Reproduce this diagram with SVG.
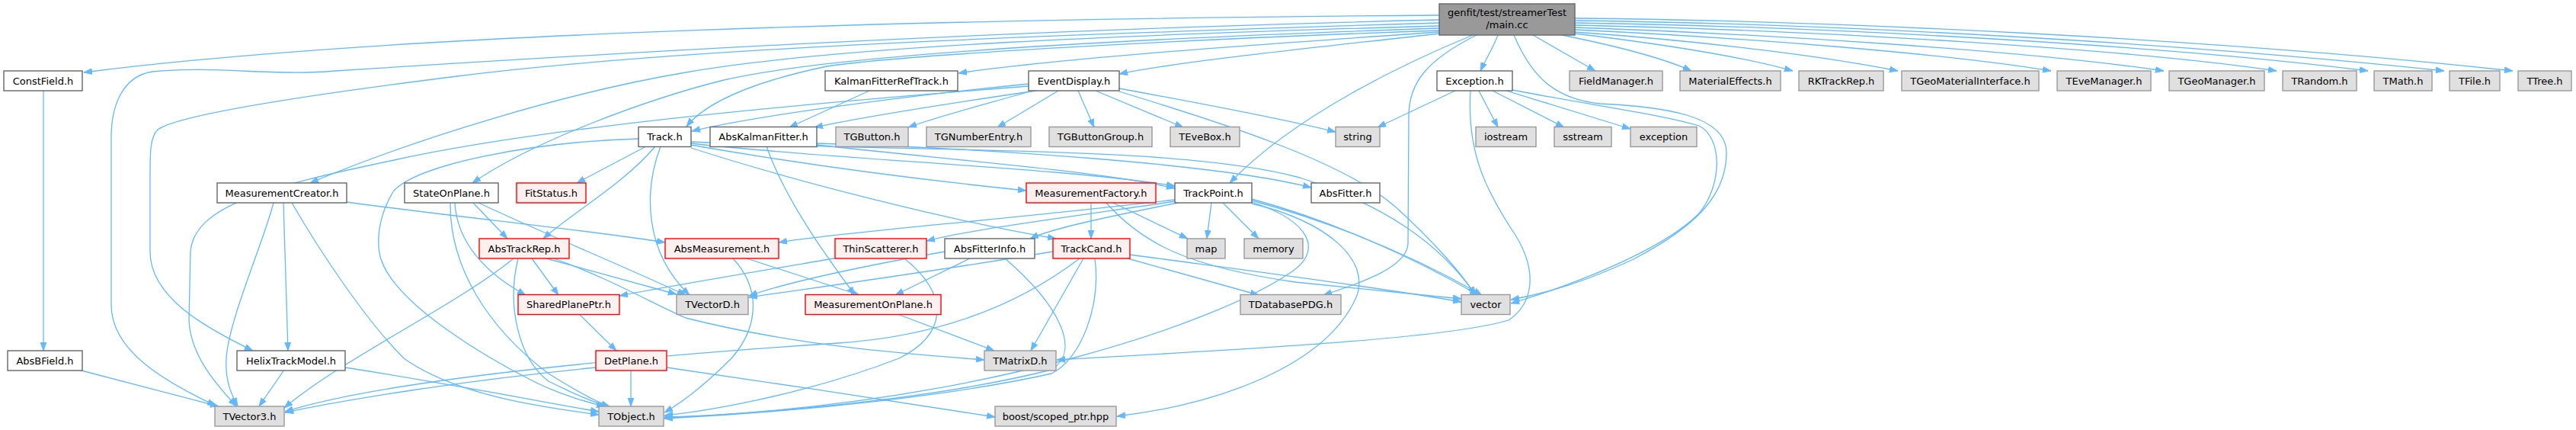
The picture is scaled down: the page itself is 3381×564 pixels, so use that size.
<svg xmlns="http://www.w3.org/2000/svg" width="3381" height="564" viewBox="0 0 3381 564">
<style>
.e{fill:none;stroke:#63b8ff;stroke-width:1.3;marker-end:url(#a)}
.n rect{fill:#ffffff;stroke:#666666;stroke-width:1.4}
.r rect{fill:#fff0f0;stroke:#ff0000;stroke-width:1.4}
.g rect{fill:#e0e0e0;stroke:#999999;stroke-width:1.4}
.m rect{fill:#999999;stroke:#666666;stroke-width:1.4}
text{font-family:"DejaVu Sans","Liberation Sans",sans-serif;font-size:13px;fill:#000000;text-anchor:middle}
</style>
<defs>
<marker id="a" markerUnits="userSpaceOnUse" markerWidth="12" markerHeight="10" refX="11" refY="4.5" orient="auto">
<path d="M0,0.5 L11,4.5 L0,8.5 Z" fill="#63b8ff" stroke="#63b8ff" stroke-width="0.8"/>
</marker>
</defs>
<rect width="3381" height="564" fill="#ffffff"/>
<g id="edges">
<!-- main.cc -->
<path class="e" d="M1889,20 C1200,25 500,45 110,95"/>
<path class="e" d="M1889,26 C1300,40 800,70 440,93 C360,100 280,86 200,94 C160,100 146,140 146,180 L146,400 C146,460 215,500 283,532"/>
<path class="e" d="M1889,30 C1400,45 900,62 600,100 C400,125 235,150 207,170 C197,180 197,200 197,230 L197,330 C197,390 270,430 332,460"/>
<path class="e" d="M1889,34 C1500,45 1100,60 900,95 C750,120 550,180 407,240"/>
<path class="e" d="M1889,37 C1500,50 1100,70 950,105 C850,130 700,185 620,240"/>
<path class="e" d="M1889,40 C1600,50 1200,70 1085,87 C1000,105 930,130 901,166"/>
<path class="e" d="M1889,42 C1700,55 1400,75 1258,96"/>
<path class="e" d="M1889,44 C1750,60 1550,80 1469,97"/>
<path class="e" d="M1966,46 C1960,62 1950,78 1943,93"/>
<path class="e" d="M1933,46 C1850,80 1700,150 1614,240"/>
<path class="e" d="M1938,46 C1870,80 1850,110 1849,150 L1848,320 C1846,350 1790,370 1737,387"/>
<path class="e" d="M2012,46 L2094,93"/>
<path class="e" d="M1987,46 C2010,100 2040,130 2100,136 C2180,140 2266,150 2266,200 C2266,260 2220,300 2144,340 C2080,370 2030,385 1983,393"/>
<path class="e" d="M2050,46 C2120,60 2180,75 2220,93"/>
<path class="e" d="M2067,44 C2200,60 2300,78 2353,93"/>
<path class="e" d="M2067,42 C2250,55 2400,75 2491,93"/>
<path class="e" d="M2067,39 C2300,50 2550,70 2692,93"/>
<path class="e" d="M2067,36 C2300,44 2650,65 2840,93"/>
<path class="e" d="M2067,33 C2400,40 2800,65 2988,93"/>
<path class="e" d="M2067,30 C2400,35 2850,60 3108,93"/>
<path class="e" d="M2067,27 C2400,31 2850,55 3208,93"/>
<path class="e" d="M2067,24 C2400,27 2900,50 3298,93"/>
<!-- ConstField / AbsBField / Helix -->
<path class="e" d="M57,119 L57,460"/>
<path class="e" d="M103,485 L287,533"/>
<path class="e" d="M373,485 L340,533"/>
<path class="e" d="M453,482 C600,505 700,525 786,540"/>
<!-- MeasurementCreator -->
<path class="e" d="M455,265 C600,285 760,300 873,318"/>
<path class="e" d="M359,266 C345,320 300,420 297,470 C295,500 305,520 312,533"/>
<path class="e" d="M372,266 L378,460"/>
<path class="e" d="M383,266 C420,330 480,420 530,470 C600,520 720,535 786,544"/>
<!-- StateOnPlane -->
<path class="e" d="M621,266 L666,313"/>
<path class="e" d="M597,266 C600,320 640,360 690,387"/>
<path class="e" d="M591,266 C590,350 640,430 720,490 C760,515 785,528 800,533"/>
<path class="e" d="M628,266 C700,300 820,350 900,387"/>
<!-- Track -->
<path class="e" d="M838,182 C700,186 550,215 517,250 C495,285 494,320 500,340 C520,400 640,470 700,500 C740,520 780,530 794,533"/>
<path class="e" d="M848,192 L757,240"/>
<path class="e" d="M860,192 C820,240 750,280 713,313"/>
<path class="e" d="M867,192 C845,250 845,330 905,387"/>
<path class="e" d="M906,190 C1050,215 1200,235 1347,250"/>
<path class="e" d="M907,188 C1100,210 1400,220 1542,244"/>
<path class="e" d="M907,194 C1050,240 1250,290 1386,313"/>
<path class="e" d="M907,186 C1200,200 1550,190 1706,233 C1820,270 1890,320 1937,387"/>
<!-- AbsKalmanFitter / KFRT -->
<path class="e" d="M1006,192 C1030,260 1080,330 1122,387"/>
<path class="e" d="M1072,190 C1250,210 1450,225 1542,247"/>
<path class="e" d="M1072,188 C1300,195 1600,215 1721,246"/>
<path class="e" d="M1141,119 L1036,167"/>
<!-- EventDisplay -->
<path class="e" d="M1350,110 C1200,125 1000,150 908,172"/>
<path class="e" d="M1360,119 C1250,135 1150,150 1069,167"/>
<path class="e" d="M1355,119 C1300,135 1240,150 1192,167"/>
<path class="e" d="M1389,119 L1309,167"/>
<path class="e" d="M1415,119 L1436,167"/>
<path class="e" d="M1438,119 L1553,167"/>
<path class="e" d="M1469,116 C1600,140 1700,160 1753,173"/>
<path class="e" d="M1469,120 C1600,160 1760,210 1830,270 C1880,315 1920,360 1936,387"/>
<path class="e" d="M1350,113 C1000,140 700,170 517,210 C350,245 255,270 250,330 L248,420 C250,470 290,510 310,533"/>
<!-- Exception -->
<path class="e" d="M1910,119 L1808,167"/>
<path class="e" d="M1941,119 L1966,167"/>
<path class="e" d="M1959,119 L2053,167"/>
<path class="e" d="M1977,119 L2140,169"/>
<path class="e" d="M1985,118 C2100,140 2180,150 2230,165 C2260,180 2262,240 2230,280 C2180,330 2060,375 1983,398"/>
<path class="e" d="M1930,119 C1925,200 1950,250 1990,310 C2020,360 2010,400 1980,420 C1900,445 1600,460 1387,472"/>
<!-- TrackPoint -->
<path class="e" d="M1542,262 C1300,290 1100,305 1022,318"/>
<path class="e" d="M1543,264 C1400,285 1280,300 1216,316"/>
<path class="e" d="M1546,266 C1450,285 1380,300 1352,313"/>
<path class="e" d="M1590,266 L1584,313"/>
<path class="e" d="M1605,266 L1652,313"/>
<path class="e" d="M1643,261 C1750,290 1860,340 1940,387"/>
<path class="e" d="M1643,263 C1780,300 1880,350 1945,387"/>
<path class="e" d="M1643,265 C1720,290 1740,330 1690,360 C1600,420 1300,530 872,548"/>
<path class="e" d="M1643,267 C1740,290 1800,340 1780,390 C1740,480 1600,530 1466,546"/>
<!-- MeasurementFactory -->
<path class="e" d="M1432,266 L1432,313"/>
<path class="e" d="M1459,265 L1559,313"/>
<path class="e" d="M1452,266 C1500,320 1560,350 1700,370 C1800,380 1880,388 1918,392"/>
<!-- TrackCand -->
<path class="e" d="M1382,330 C1200,360 1050,380 983,390"/>
<path class="e" d="M1417,339 C1350,390 1250,440 1100,450 C800,470 500,500 374,540"/>
<path class="e" d="M1422,339 L1353,460"/>
<path class="e" d="M1437,339 C1445,400 1420,470 1380,490 C1200,530 950,545 872,549"/>
<path class="e" d="M1480,339 L1652,387"/>
<path class="e" d="M1483,334 C1600,350 1800,375 1918,396"/>
<!-- AbsMeasurement / ThinScatterer / AbsFitterInfo -->
<path class="e" d="M980,339 L1128,387"/>
<path class="e" d="M962,339 C1000,380 995,430 960,470 C930,500 900,525 872,541"/>
<path class="e" d="M1100,338 C1000,355 880,375 813,388"/>
<path class="e" d="M1187,339 C1250,390 1240,440 1180,470 C1050,520 920,540 872,545"/>
<path class="e" d="M1273,339 L1175,387"/>
<path class="e" d="M1240,330 C1100,355 1020,375 983,388"/>
<path class="e" d="M1319,339 C1390,400 1420,460 1380,485 C1200,530 950,545 872,547"/>
<!-- AbsTrackRep -->
<path class="e" d="M674,339 C600,400 450,470 373,535"/>
<path class="e" d="M680,339 C665,400 680,470 720,500 C760,520 785,530 800,533"/>
<path class="e" d="M698,339 L733,387"/>
<path class="e" d="M717,339 L888,386"/>
<path class="e" d="M727,339 C800,365 860,400 900,417 C1050,455 1200,465 1292,472"/>
<!-- SharedPlanePtr / DetPlane / MeasurementOnPlane -->
<path class="e" d="M760,412 L809,460"/>
<path class="e" d="M828,485 L828,533"/>
<path class="e" d="M782,482 C600,500 450,525 374,541"/>
<path class="e" d="M875,482 C1000,500 1200,530 1306,547"/>
<path class="e" d="M1178,412 L1305,460"/>
</g>
<g id="main_cc" class="m"><rect x="1889" y="5" width="178" height="41"/><text x="1978" y="21">genfit/test/streamerTest</text><text x="1978" y="37">/main.cc</text></g>
<g id="ConstField_h" class="n"><rect x="5" y="93" width="103" height="26"/><text x="56.5" y="110.5">ConstField.h</text></g>
<g id="KalmanFitterRefTrack_h" class="n"><rect x="1083" y="93" width="174" height="26"/><text x="1170" y="110.5">KalmanFitterRefTrack.h</text></g>
<g id="EventDisplay_h" class="n"><rect x="1350" y="93" width="119" height="26"/><text x="1409.5" y="110.5">EventDisplay.h</text></g>
<g id="Exception_h" class="n"><rect x="1886" y="93" width="99" height="26"/><text x="1935.5" y="110.5">Exception.h</text></g>
<g id="FieldManager_h" class="g"><rect x="2060" y="93" width="122" height="26"/><text x="2121" y="110.5">FieldManager.h</text></g>
<g id="MaterialEffects_h" class="g"><rect x="2205" y="93" width="132" height="26"/><text x="2271" y="110.5">MaterialEffects.h</text></g>
<g id="RKTrackRep_h" class="g"><rect x="2361" y="93" width="111" height="26"/><text x="2416.5" y="110.5">RKTrackRep.h</text></g>
<g id="TGeoMaterialInterface_h" class="g"><rect x="2496" y="93" width="180" height="26"/><text x="2586" y="110.5">TGeoMaterialInterface.h</text></g>
<g id="TEveManager_h" class="g"><rect x="2700" y="93" width="123" height="26"/><text x="2761.5" y="110.5">TEveManager.h</text></g>
<g id="TGeoManager_h" class="g"><rect x="2847" y="93" width="125" height="26"/><text x="2909.5" y="110.5">TGeoManager.h</text></g>
<g id="TRandom_h" class="g"><rect x="2996" y="93" width="97" height="26"/><text x="3044.5" y="110.5">TRandom.h</text></g>
<g id="TMath_h" class="g"><rect x="3116" y="93" width="76" height="26"/><text x="3154" y="110.5">TMath.h</text></g>
<g id="TFile_h" class="g"><rect x="3215" y="93" width="66" height="26"/><text x="3248" y="110.5">TFile.h</text></g>
<g id="TTree_h" class="g"><rect x="3305" y="93" width="70" height="26"/><text x="3340" y="110.5">TTree.h</text></g>
<g id="Track_h" class="n"><rect x="838" y="166.5" width="69" height="26"/><text x="872.5" y="184">Track.h</text></g>
<g id="AbsKalmanFitter_h" class="n"><rect x="932" y="166.5" width="140" height="26"/><text x="1002" y="184">AbsKalmanFitter.h</text></g>
<g id="TGButton_h" class="g"><rect x="1097" y="166.5" width="95" height="26"/><text x="1144.5" y="184">TGButton.h</text></g>
<g id="TGNumberEntry_h" class="g"><rect x="1216" y="166.5" width="137" height="26"/><text x="1284.5" y="184">TGNumberEntry.h</text></g>
<g id="TGButtonGroup_h" class="g"><rect x="1377" y="166.5" width="135" height="26"/><text x="1444.5" y="184">TGButtonGroup.h</text></g>
<g id="TEveBox_h" class="g"><rect x="1536" y="166.5" width="91" height="26"/><text x="1581.5" y="184">TEveBox.h</text></g>
<g id="string" class="g"><rect x="1753" y="166.5" width="58" height="26"/><text x="1782" y="184">string</text></g>
<g id="iostream" class="g"><rect x="1937" y="166.5" width="79" height="26"/><text x="1976.5" y="184">iostream</text></g>
<g id="sstream" class="g"><rect x="2040" y="166.5" width="75" height="26"/><text x="2077.5" y="184">sstream</text></g>
<g id="exception" class="g"><rect x="2140" y="166.5" width="87" height="26"/><text x="2183.5" y="184">exception</text></g>
<g id="MeasurementCreator_h" class="n"><rect x="285" y="240" width="170" height="26"/><text x="370" y="257.5">MeasurementCreator.h</text></g>
<g id="StateOnPlane_h" class="n"><rect x="531" y="240" width="123" height="26"/><text x="592.5" y="257.5">StateOnPlane.h</text></g>
<g id="FitStatus_h" class="r"><rect x="678" y="240" width="91" height="26"/><text x="723.5" y="257.5">FitStatus.h</text></g>
<g id="MeasurementFactory_h" class="r"><rect x="1347" y="240" width="170" height="26"/><text x="1432" y="257.5">MeasurementFactory.h</text></g>
<g id="TrackPoint_h" class="n"><rect x="1542" y="240" width="101" height="26"/><text x="1592.5" y="257.5">TrackPoint.h</text></g>
<g id="AbsFitter_h" class="n"><rect x="1721" y="240" width="90" height="26"/><text x="1766" y="257.5">AbsFitter.h</text></g>
<g id="AbsTrackRep_h" class="r"><rect x="629" y="313" width="118" height="26"/><text x="688" y="330.5">AbsTrackRep.h</text></g>
<g id="AbsMeasurement_h" class="r"><rect x="873" y="313" width="149" height="26"/><text x="947.5" y="330.5">AbsMeasurement.h</text></g>
<g id="ThinScatterer_h" class="r"><rect x="1096" y="313" width="120" height="26"/><text x="1156" y="330.5">ThinScatterer.h</text></g>
<g id="AbsFitterInfo_h" class="n"><rect x="1240" y="313" width="118" height="26"/><text x="1299" y="330.5">AbsFitterInfo.h</text></g>
<g id="TrackCand_h" class="r"><rect x="1382" y="313" width="101" height="26"/><text x="1432.5" y="330.5">TrackCand.h</text></g>
<g id="map" class="g"><rect x="1558" y="313" width="50" height="26"/><text x="1583" y="330.5">map</text></g>
<g id="memory" class="g"><rect x="1633" y="313" width="77" height="26"/><text x="1671.5" y="330.5">memory</text></g>
<g id="SharedPlanePtr_h" class="r"><rect x="680" y="386.5" width="133" height="26"/><text x="746.5" y="404">SharedPlanePtr.h</text></g>
<g id="TVectorD_h" class="g"><rect x="888" y="386.5" width="94" height="26"/><text x="935" y="404">TVectorD.h</text></g>
<g id="MeasurementOnPlane_h" class="r"><rect x="1057" y="386.5" width="178" height="26"/><text x="1146" y="404">MeasurementOnPlane.h</text></g>
<g id="TDatabasePDG_h" class="g"><rect x="1628" y="386.5" width="132" height="26"/><text x="1694" y="404">TDatabasePDG.h</text></g>
<g id="vector" class="g"><rect x="1918" y="386.5" width="64" height="26"/><text x="1950" y="404">vector</text></g>
<g id="AbsBField_h" class="n"><rect x="10" y="460" width="98" height="26"/><text x="59" y="477.5">AbsBField.h</text></g>
<g id="HelixTrackModel_h" class="n"><rect x="311" y="460" width="142" height="26"/><text x="382" y="477.5">HelixTrackModel.h</text></g>
<g id="DetPlane_h" class="r"><rect x="782" y="460" width="93" height="26"/><text x="828.5" y="477.5">DetPlane.h</text></g>
<g id="TMatrixD_h" class="g"><rect x="1292" y="460" width="94" height="26"/><text x="1339" y="477.5">TMatrixD.h</text></g>
<g id="TVector3_h" class="g"><rect x="282" y="533" width="91" height="26"/><text x="327.5" y="550.5">TVector3.h</text></g>
<g id="TObject_h" class="g"><rect x="786" y="533" width="85" height="26"/><text x="828.5" y="550.5">TObject.h</text></g>
<g id="boost_scoped_ptr_hpp" class="g"><rect x="1306" y="533" width="159" height="26"/><text x="1385.5" y="550.5">boost/scoped_ptr.hpp</text></g>
</svg>
